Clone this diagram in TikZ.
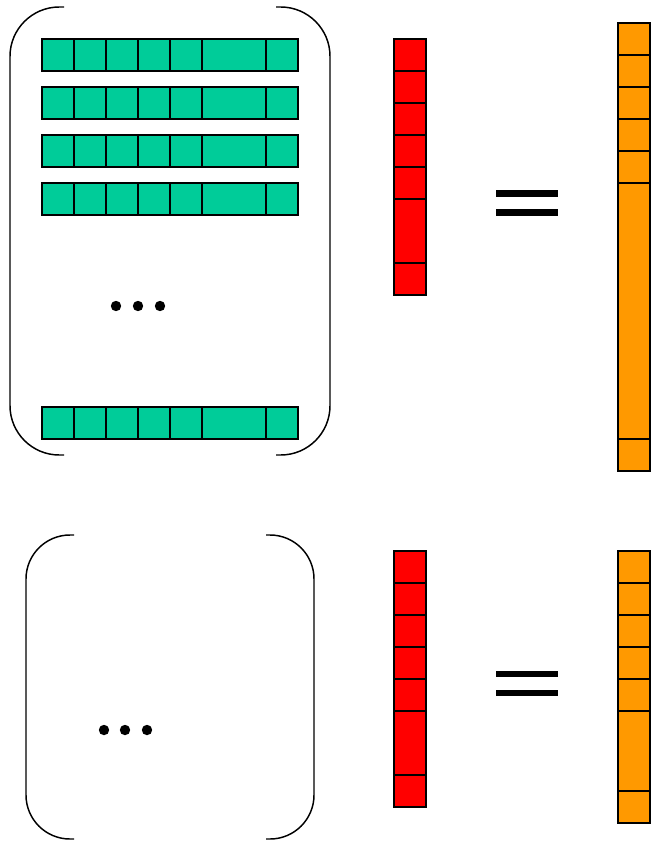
\documentclass[tikz,border=0pt]{standalone}
\definecolor{matgreen}{RGB}{0,204,153}
\definecolor{vecred}{RGB}{255,0,0}
\definecolor{vecorange}{RGB}{255,153,0}
\tikzset{
  cell/.style={draw=black,line width=0.9pt},
  rowcell/.style={cell,fill=matgreen},
  xcell/.style={cell,fill=vecred},
  bcell/.style={cell,fill=vecorange},
  paren/.style={draw=black,line width=1.1pt},
}
\begin{document}
\begin{tikzpicture}[x=0.75pt,y=-0.75pt]
	\useasboundingbox (0,0) rectangle (651,842);
	% first block: rows of the matrix
	\foreach \y in {39,87,135,183,407} {
		\foreach \a/\b in {42/74,74/106,106/138,138/170,170/202,202/266,266/298}
			\draw[rowcell] (\a,\y) rectangle (\b,\y+32);
	}
	\draw[paren,rounded corners=37pt] (64,7) -- (10,7) -- (10,455) -- (64,455);
	\draw[paren,rounded corners=37pt] (276,7) -- (330,7) -- (330,455) -- (276,455);
	\fill (116,306) circle [radius=3.9pt];
	\fill (138,306) circle [radius=3.9pt];
	\fill (160,306) circle [radius=3.9pt];
	% vector and result
	\foreach \a/\b in {39/71,71/103,103/135,135/167,167/199,199/263,263/295}
		\draw[xcell] (394,\a) rectangle (426,\b);
	\fill (496,190) rectangle (558,197);
	\fill (496,209) rectangle (558,216);
	\foreach \a/\b in {23/55,55/87,87/119,119/151,151/183,183/439,439/471}
		\draw[bcell] (618,\a) rectangle (650,\b);
	% second block
	\draw[paren,rounded corners=33pt] (74,535) -- (26,535) -- (26,839) -- (74,839);
	\draw[paren,rounded corners=33pt] (266,535) -- (314,535) -- (314,839) -- (266,839);
	\fill (104,730) circle [radius=3.9pt];
	\fill (125,730) circle [radius=3.9pt];
	\fill (147,730) circle [radius=3.9pt];
	\foreach \a/\b in {551/583,583/615,615/647,647/679,679/711,711/775,775/807}
		\draw[xcell] (394,\a) rectangle (426,\b);
	\fill (496,671) rectangle (558,677);
	\fill (496,690) rectangle (558,696);
	\foreach \a/\b in {551/583,583/615,615/647,647/679,679/711,711/791,791/823}
		\draw[bcell] (618,\a) rectangle (650,\b);
\end{tikzpicture}
\end{document}
